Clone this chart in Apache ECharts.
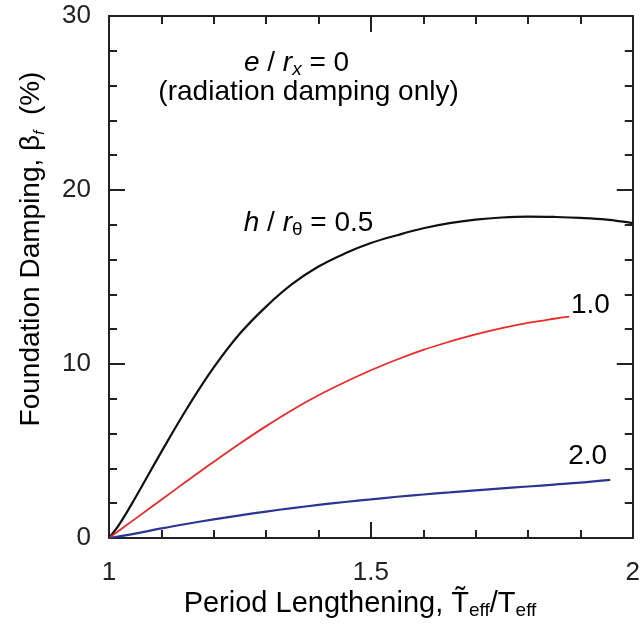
<!DOCTYPE html>
<html>
<head>
<meta charset="utf-8">
<script src="https://cdn.jsdelivr.net/npm/echarts@6/dist/echarts.min.js"></script>
<style>
  html, body { margin: 0; padding: 0; background: #fff; }
  #chart { width: 643px; height: 624px; }
</style>
</head>
<body>
<div id="chart"></div>
<script>
// ---- data ----
var xTicks = [1, 1.5, 2];
var yTicks = [0, 10, 20, 30];

var periodBlack = [1.0, 1.02, 1.05, 1.1, 1.15, 1.2, 1.25, 1.3, 1.35, 1.4, 1.45, 1.5, 1.55, 1.6, 1.65, 1.7, 1.75, 1.8, 1.85, 1.9, 1.95, 2.0];
var dampBlack   = [0, 0.8, 2.3, 4.95, 7.5, 9.8, 11.75, 13.3, 14.6, 15.6, 16.35, 16.95, 17.4, 17.8, 18.1, 18.3, 18.42, 18.47, 18.45, 18.4, 18.3, 18.1];

var periodRed = [1.0, 1.05, 1.1, 1.15, 1.2, 1.25, 1.3, 1.35, 1.4, 1.45, 1.5, 1.55, 1.6, 1.65, 1.7, 1.75, 1.8, 1.85, 1.879];
var dampRed   = [0, 1.1, 2.2, 3.3, 4.38, 5.43, 6.43, 7.36, 8.2, 8.95, 9.64, 10.26, 10.81, 11.28, 11.7, 12.06, 12.36, 12.6, 12.72];

var periodBlue = [1.0, 1.05, 1.1, 1.15, 1.2, 1.25, 1.3, 1.35, 1.4, 1.45, 1.5, 1.55, 1.6, 1.65, 1.7, 1.75, 1.8, 1.85, 1.9, 1.957];
var dampBlue   = [0, 0.25, 0.55, 0.82, 1.07, 1.3, 1.52, 1.72, 1.9, 2.07, 2.22, 2.37, 2.5, 2.62, 2.74, 2.85, 2.96, 3.07, 3.18, 3.34];

// annotation anchors (data coordinates)
var annotations = [
  { key: 'ecc',  x: 1.358, y: 27.3 },
  { key: 'rad',  x: 1.381, y: 25.6 },
  { key: 'h05',  x: 1.381, y: 18.1 },
  { key: 'h10',  x: 1.919, y: 13.36 },
  { key: 'h20',  x: 1.914, y: 4.72 }
];

function pairs(xs, ys) { return xs.map(function (x, i) { return [x, ys[i]]; }); }

var FONT = '"Liberation Sans", Arial, Helvetica, sans-serif';
var AX = '#222';

var chart = echarts.init(document.getElementById('chart'), null, { renderer: 'canvas' });

function xAxisCfg(pos, showLabel) {
  return {
    type: 'value', position: pos, min: xTicks[0], max: xTicks[xTicks.length - 1], interval: 0.5,
    axisLine: { show: true, onZero: false, lineStyle: { color: AX, width: 2 } },
    axisTick: { show: true, inside: true, length: 16, lineStyle: { color: AX, width: 2 } },
    minorTick: { show: true, splitNumber: 5, length: 8, lineStyle: { color: AX, width: 2 } },
    axisLabel: { show: showLabel, margin: 22, fontSize: 26, color: '#222', fontFamily: FONT },
    splitLine: { show: false }
  };
}
function yAxisCfg(pos, showLabel) {
  return {
    type: 'value', position: pos, min: yTicks[0], max: yTicks[yTicks.length - 1], interval: 10,
    axisLine: { show: true, onZero: false, lineStyle: { color: AX, width: 2 } },
    axisTick: { show: true, inside: true, length: 16, lineStyle: { color: AX, width: 2 } },
    minorTick: { show: true, splitNumber: 5, length: 8, lineStyle: { color: AX, width: 2 } },
    axisLabel: { show: showLabel, margin: 18, fontSize: 26, color: '#222', fontFamily: FONT },
    splitLine: { show: false }
  };
}

var option = {
  backgroundColor: '#fff',
  animation: false,
  grid: { left: 109, right: 6, top: 16, bottom: 86, containLabel: false },
  xAxis: [xAxisCfg('bottom', true), xAxisCfg('top', false)],
  yAxis: [yAxisCfg('left', true), yAxisCfg('right', false)],
  series: [
    { type: 'line', name: '0.5', data: pairs(periodBlack, dampBlack), smooth: 0.4, showSymbol: false,
      lineStyle: { color: '#111', width: 2.2 }, z: 3 },
    { type: 'line', name: '1.0', data: pairs(periodRed, dampRed), smooth: 0.4, showSymbol: false,
      lineStyle: { color: '#ec2a2a', width: 1.8 }, z: 3 },
    { type: 'line', name: '2.0', data: pairs(periodBlue, dampBlue), smooth: 0.4, showSymbol: false,
      lineStyle: { color: '#2b3594', width: 2.2 }, z: 3 }
  ]
};
chart.setOption(option);

var rich = {
  n:   { fontFamily: FONT, fontSize: 28, color: '#222', lineHeight: 32, verticalAlign: 'middle' },
  i:   { fontFamily: FONT, fontSize: 28, color: '#222', fontStyle: 'italic', lineHeight: 32, verticalAlign: 'middle' },
  si:  { fontFamily: FONT, fontSize: 19, color: '#222', fontStyle: 'italic', lineHeight: 16, verticalAlign: 'bottom' },
  s:   { fontFamily: FONT, fontSize: 19, color: '#222', lineHeight: 16, verticalAlign: 'bottom' },
  t:   { fontFamily: FONT, fontSize: 29, color: '#222', lineHeight: 32, verticalAlign: 'middle' },
  ts:  { fontFamily: FONT, fontSize: 19, color: '#222', lineHeight: 14, verticalAlign: 'bottom' },
  yt:  { fontFamily: FONT, fontSize: 28, color: '#222', lineHeight: 32, verticalAlign: 'middle' },
  ysi: { fontFamily: FONT, fontSize: 15, color: '#222', fontStyle: 'italic', lineHeight: 14, verticalAlign: 'bottom' }
};

var texts = {
  ecc: '{i|e}{n| / }{i|r}{si|x}{n| = 0}',
  rad: '{n|(radiation damping only)}',
  h05: '{i|h}{n| / }{i|r}{s|θ}{n| = 0.5}',
  h10: '{n|1.0}',
  h20: '{n|2.0}'
};

var graphics = annotations.map(function (a) {
  var p = chart.convertToPixel({ xAxisIndex: 0, yAxisIndex: 0 }, [a.x, a.y]);
  return {
    type: 'text', x: p[0], y: p[1], z: 10,
    style: { text: texts[a.key], rich: rich, align: 'center', verticalAlign: 'middle' }
  };
});

// axis titles
graphics.push({
  type: 'text', x: 360, y: 604, z: 10,
  style: {
    text: '{t|Period Lengthening, T\u0303}{ts|eff}{t|/T}{ts|eff}',
    rich: rich, align: 'center', verticalAlign: 'middle'
  }
});
graphics.push({
  type: 'text', x: 31, y: 249, rotation: Math.PI / 2, z: 10,
  style: {
    text: '{yt|Foundation Damping, β}{ysi|f}{yt|  (%)}',
    rich: rich, align: 'center', verticalAlign: 'middle'
  }
});

chart.setOption({ graphic: graphics });
</script>
</body>
</html>
